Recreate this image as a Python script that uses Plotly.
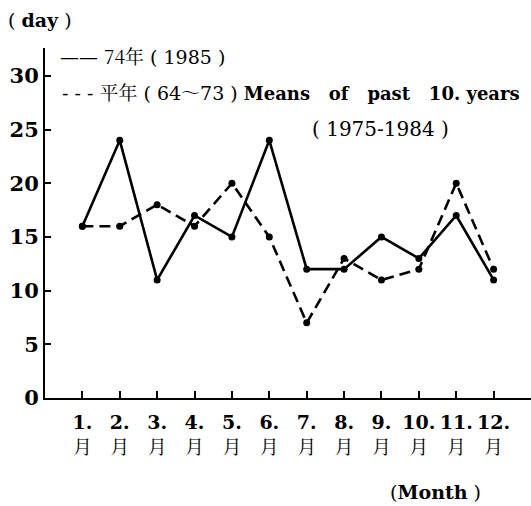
import plotly.graph_objects as go

months = [1, 2, 3, 4, 5, 6, 7, 8, 9, 10, 11, 12]
month_labels = ["1.", "2.", "3.", "4.", "5.", "6.", "7.", "8.", "9.", "10.", "11.", "12."]
days_1985 = [16, 24, 11, 17, 15, 24, 12, 12, 15, 13, 17, 11]
days_mean = [16, 16, 18, 16, 20, 15, 7, 13, 11, 12, 20, 12]
y_ticks = [0, 5, 10, 15, 20, 25, 30]

SERIF = "DejaVu Serif"
CJK = "Noto Serif CJK JP"

fig = go.Figure()
fig.add_trace(go.Scatter(
    x=months, y=days_1985, mode="lines+markers", name="74年 (1985)",
    line=dict(color="black", width=2.6),
    marker=dict(color="black", size=7),
))
fig.add_trace(go.Scatter(
    x=months, y=days_mean, mode="lines+markers", name="平年",
    line=dict(color="black", width=2.6, dash="11px,6px"),
    marker=dict(color="black", size=7),
))

tick_text = [f"<b>{m}</b><br><span style='font-family:{CJK}'>月</span>" for m in month_labels]

fig.update_layout(
    width=531, height=506,
    margin=dict(l=45, r=0, t=48, b=108),
    paper_bgcolor="white", plot_bgcolor="white",
    showlegend=False,
    font=dict(family=SERIF, color="black", size=20),
    xaxis=dict(
        range=[0, 13], tickvals=months, ticktext=tick_text,
        ticks="inside", ticklen=7, tickwidth=2, tickcolor="black",
        showline=True, linecolor="black", linewidth=2,
        showgrid=False, zeroline=False, ticklabelstandoff=6,
        tickfont=dict(family=SERIF, size=19, color="black"),
    ),
    yaxis=dict(
        range=[0, 32.6], tickvals=y_ticks, ticktext=[f"<b>{v}</b>" for v in y_ticks],
        ticks="inside", ticklen=6, tickwidth=2, tickcolor="black",
        showline=True, linecolor="black", linewidth=2,
        showgrid=False, zeroline=False,
        tickfont=dict(family=SERIF, size=21, color="black"),
    ),
)

ann = [
    dict(text="( <b>day</b> )", x=6, y=20, font=dict(size=19)),
    dict(text="(<b>Month</b> )", x=388, y=492, font=dict(size=19)),
    dict(text=f"—— <span style='font-family:{CJK}'>74年</span> ( 1985 )", x=58, y=55,
         font=dict(size=19)),
    dict(text=f"- - - <span style='font-family:{CJK}'>平年</span> ( 64<span style='font-family:{CJK}'>～</span>73 ) "
              f"<b><span style='font-size:18px'>Means   of   past   10. years</span></b>",
         x=60, y=92, font=dict(size=19)),
    dict(text="( 1975-1984 )", x=310, y=129, font=dict(size=20)),
]
for a in ann:
    a.update(xref="paper", yref="paper", showarrow=False, xanchor="left", yanchor="middle")
    a["x"] = (a["x"] - 45) / 486
    a["y"] = (398 - a["y"]) / (398 - 48)
fig.update_layout(annotations=ann)

fig.write_html("out.html", config={"displayModeBar": False},
               post_script="document.body.style.margin='0';")
